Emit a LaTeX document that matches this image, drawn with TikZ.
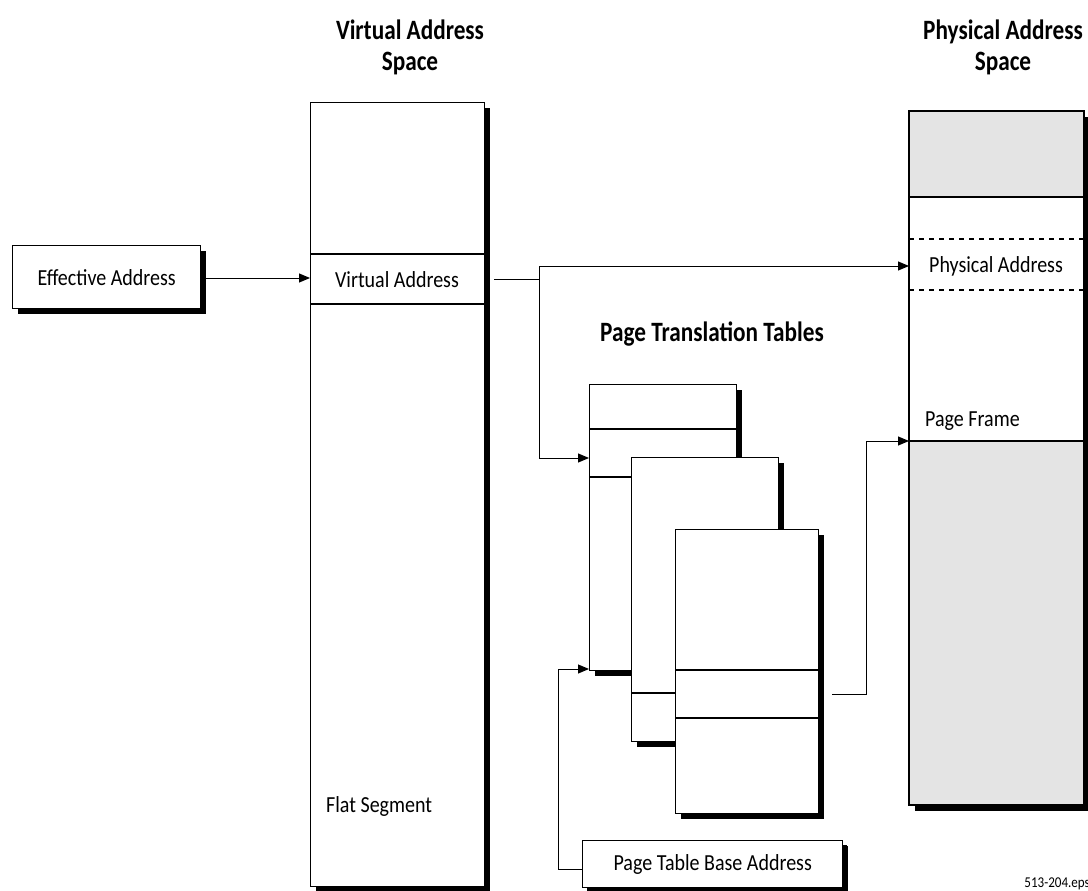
\documentclass[tikz,border=0pt]{standalone}
\usepackage{fontspec}
\setmainfont[FakeStretch=0.87]{Carlito}
\newfontfamily\headfont[FakeStretch=0.83]{Carlito}
\usetikzlibrary{arrows.meta,shadows}
\definecolor{pgray}{RGB}{228,228,228}
\tikzset{
  box/.style={draw=black, line width=1.4pt, fill=white, inner sep=0pt, anchor=north west,
    drop shadow={shadow xshift=5pt, shadow yshift=-5pt, fill=black, opacity=1}},
  rowline/.style={line width=1.4pt},
  conn/.style={line width=1pt},
  arr/.style={conn, -{Triangle[length=11pt,width=9pt]}},
  lbl/.style={font=\fontsize{23}{25}\selectfont, inner sep=0pt},
  head/.style={font=\headfont\bfseries\fontsize{28}{31}\selectfont, align=center, inner sep=0pt},
}
\begin{document}
\begin{tikzpicture}[x=1pt,y=-1pt]
\useasboundingbox (0,0) rectangle (1088,891);

% headers
\node[head] (hvas) at (410,47) {Virtual Address\\Space};
\node[head] (hpas) at (1003,47) {Physical Address\\Space};
\node[head] (hptt) at (712,334) {Page Translation Tables};

% effective address
\node[box, minimum width=188pt, minimum height=63pt, lbl] (ea) at (12,245) {Effective Address};

% virtual address space
\node[box, minimum width=174pt, minimum height=784pt] (vas) at (310,102) {};
\draw[rowline] (310,254) -- (484,254);
\draw[rowline] (310,304) -- (484,304);
\node[lbl] (varow) at (397,280) {Virtual Address};
\node[lbl, anchor=west] (flat) at (326,806) {Flat Segment};

% physical address space
\node[box, minimum width=175pt, minimum height=694pt] (pas) at (909,111) {};
\fill[pgray] (909,111) rectangle (1084,197);
\fill[pgray] (909,441) rectangle (1084,805);
\draw[rowline] (909,197) -- (1084,197);
\draw[rowline] (909,441) -- (1084,441);
\draw[line width=1.6pt, dash pattern=on 5pt off 5pt] (909,239) -- (1084,239);
\draw[line width=1.6pt, dash pattern=on 5pt off 5pt] (909,290) -- (1084,290);
\draw[line width=1.4pt] (909,111) rectangle (1084,805);
\node[lbl, anchor=west] (parow) at (929,266) {Physical Address};
\node[lbl, anchor=west] (pframe) at (925,421) {Page Frame};

% page tables
\node[box, minimum width=147pt, minimum height=286pt] (t1) at (589,384) {};
\draw[rowline] (589,429) -- (736,429);
\draw[rowline] (589,477) -- (736,477);
\node[box, minimum width=147pt, minimum height=284pt] (t2) at (631,457) {};
\draw[rowline] (631,693) -- (778,693);
\node[box, minimum width=143pt, minimum height=284pt] (t3) at (675,529) {};
\draw[rowline] (675,670) -- (818,670);
\draw[rowline] (675,718) -- (818,718);

% page table base address
\node[box, minimum width=260pt, minimum height=47pt, lbl,
  drop shadow={shadow xshift=4pt, shadow yshift=-4pt, fill=black, opacity=1}] (ptba) at (582,840) {Page Table Base Address};

% connectors
\draw[arr] (ea.east |- 0,278) -- (vas.west |- 0,278);
\coordinate (vaout) at (494,279);
\coordinate (j) at (539,279);
\draw[conn] (vaout) -- (j);
\draw[arr] (j) |- (pas.west |- parow);
\draw[arr] (j) |- (t1.west |- 0,458);
\coordinate (b1) at (558,869);
\draw[arr] (ptba.west |- b1) -- (b1) |- (t1.west |- 0,669);
\coordinate (t3out) at (832,694);
\coordinate (k) at (866,694);
\draw[arr] (t3out) -- (k) |- (pas.west |- 0,441);

% file label
\node[font=\fontsize{15}{16}\selectfont, anchor=east, inner sep=0pt] (eps) at (1090,884) {513-204.eps};
\end{tikzpicture}
\end{document}
